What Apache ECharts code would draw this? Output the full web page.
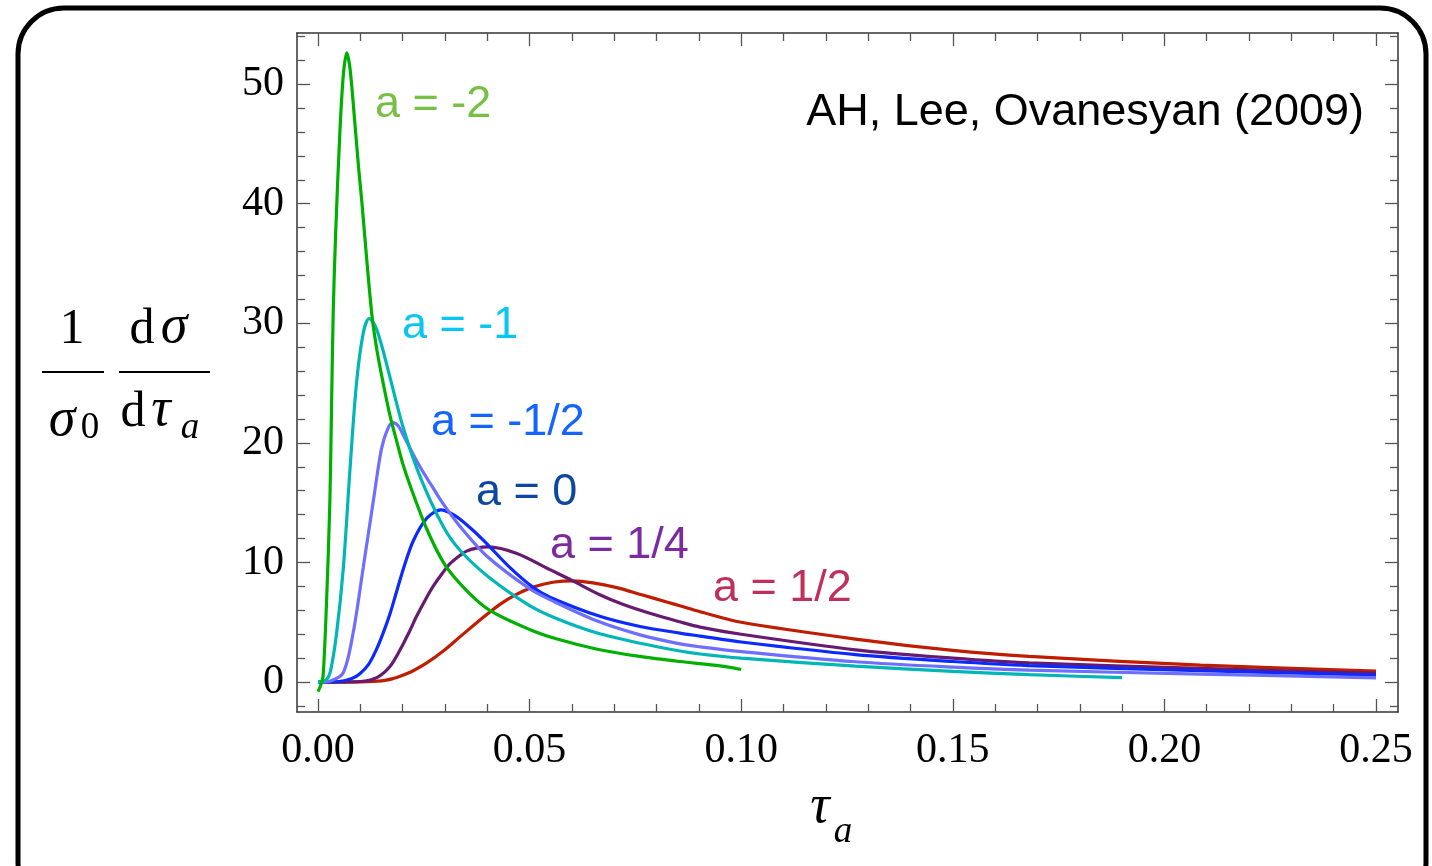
<!DOCTYPE html>
<html>
<head>
<meta charset="utf-8">
<script src="https://cdn.jsdelivr.net/npm/echarts@6/dist/echarts.min.js"></script>
<style>
html,body{margin:0;padding:0;background:#fff;}
#chart{width:1432px;height:866px;}
</style>
</head>
<body>
<div id="chart"></div>
<script>
// ---- data ----
const tauM2 = [0, 0.0006, 0.0012, 0.0020, 0.0028, 0.0032, 0.0036, 0.0042, 0.0052, 0.0060, 0.0068, 0.0076, 0.0087, 0.0096, 0.0104, 0.0115, 0.0128, 0.0140, 0.0154, 0.0170, 0.0187, 0.0200, 0.0217, 0.0257, 0.0300, 0.0350, 0.0406, 0.0500, 0.0565, 0.0660, 0.0760, 0.0855, 0.0950, 0.1000];
const sigM2 = [-0.8, -0.3, 0.5, 6.5, 15, 23, 31, 37.8, 46.2, 50.8, 52.6, 51.2, 46.8, 43.0, 40.0, 35.4, 30.5, 27.6, 25.0, 22.3, 20.0, 18.3, 16.5, 12.8, 9.8, 7.7, 6.0, 4.4, 3.6, 2.75, 2.15, 1.72, 1.35, 1.05];

const tauM1 = [0, 0.002, 0.003, 0.0044, 0.006, 0.0076, 0.0091, 0.0107, 0.0121, 0.0135, 0.0150, 0.0170, 0.0202, 0.0241, 0.0296, 0.0336, 0.0406, 0.0500, 0.0565, 0.0660, 0.0761, 0.0855, 0.0903, 0.1000, 0.1270, 0.1500, 0.1680, 0.1900];
const sigM1 = [0, 0.2, 1.0, 4.1, 9.6, 18.0, 25.0, 29.2, 30.4, 29.8, 28.2, 25.5, 21.2, 17.2, 13.0, 11.0, 8.7, 6.4, 5.3, 4.1, 3.25, 2.6, 2.35, 2.0, 1.34, 0.9, 0.62, 0.38];

const tauMH = [0, 0.003, 0.006, 0.0083, 0.0107, 0.0131, 0.0150, 0.0165, 0.0177, 0.0190, 0.0205, 0.0241, 0.0269, 0.0296, 0.0336, 0.0400, 0.0500, 0.0548, 0.0660, 0.0761, 0.0855, 0.0903, 0.1000, 0.1270, 0.1500, 0.1680, 0.2085, 0.2500];
const sigMH = [0, 0.1, 0.8, 4.1, 9.6, 15.2, 19.5, 21.2, 21.7, 21.4, 20.4, 18.0, 16.4, 14.9, 13.0, 10.5, 7.8, 6.9, 5.1, 3.95, 3.2, 2.95, 2.55, 1.7, 1.25, 1.0, 0.67, 0.36];

const tauZ = [0, 0.005, 0.008, 0.0099, 0.012, 0.0139, 0.0155, 0.017, 0.0186, 0.0202, 0.0225, 0.0257, 0.029, 0.032, 0.035, 0.039, 0.045, 0.0509, 0.0548, 0.0666, 0.0761, 0.0855, 0.0903, 0.1, 0.127, 0.15, 0.168, 0.2085, 0.25];
const sigZ = [0, 0.05, 0.3, 0.7, 1.5, 2.8, 4.2, 5.7, 7.6, 9.5, 11.8, 13.7, 14.4, 14.0, 13.2, 11.9, 9.7, 7.9, 7.1, 5.5, 4.65, 4.1, 3.85, 3.35, 2.3, 1.72, 1.38, 0.95, 0.58];

const tauQ = [0, 0.01, 0.014, 0.017, 0.0194, 0.0217, 0.0233, 0.0257, 0.0272, 0.0296, 0.0312, 0.0336, 0.0351, 0.0375, 0.0402, 0.047, 0.0548, 0.06, 0.0666, 0.072, 0.0784, 0.0855, 0.0903, 0.1, 0.127, 0.15, 0.168, 0.2085, 0.25];
const sigQ = [0, 0.05, 0.4, 1.3, 2.7, 4.3, 5.5, 7.1, 8.0, 9.2, 9.9, 10.6, 10.95, 11.2, 11.3, 10.75, 9.4, 8.5, 7.3, 6.5, 5.75, 5.04, 4.6, 4.0, 2.7, 2.0, 1.6, 1.14, 0.73];

const tauH = [0, 0.01, 0.015, 0.0178, 0.0194, 0.0225, 0.0257, 0.0296, 0.0336, 0.039, 0.043, 0.047, 0.0509, 0.0555, 0.0603, 0.065, 0.0706, 0.0765, 0.0824, 0.0855, 0.0903, 0.1, 0.127, 0.15, 0.168, 0.2085, 0.25];
const sigH = [0, 0.02, 0.1, 0.3, 0.48, 0.95, 1.6, 2.6, 3.8, 5.4, 6.5, 7.35, 7.95, 8.35, 8.47, 8.3, 7.9, 7.3, 6.7, 6.38, 5.88, 5.0, 3.6, 2.65, 2.15, 1.42, 0.92];

const xMajor = [0, 0.05, 0.10, 0.15, 0.20, 0.25];
const xMinor = [0.01,0.02,0.03,0.04,0.06,0.07,0.08,0.09,0.11,0.12,0.13,0.14,0.16,0.17,0.18,0.19,0.21,0.22,0.23,0.24];
const yMajor = [0, 10, 20, 30, 40, 50];
const yMinor = [-2,2,4,6,8,12,14,16,18,22,24,26,28,32,34,36,38,42,44,46,48,52,54];

const curveNames = ['a = 1/2', 'a = 1/4', 'a = 0', 'a = -1/2', 'a = -1', 'a = -2'];
const curveTaus = [tauH, tauQ, tauZ, tauMH, tauM1, tauM2];
const curveSigs = [sigH, sigQ, sigZ, sigMH, sigM1, sigM2];
const lineColors = ['#c01c00', '#661a70', '#0a2aff', '#6e6eff', '#00b6b6', '#00b000'];

// ---- chart ----
const chart = echarts.init(document.getElementById('chart'));
const X_MIN = -0.00496, X_MAX = 0.2552, Y_MIN = -2.5, Y_MAX = 54.27;
const frameColor = '#333', tickColor = '#555';
const serif = 'Liberation Serif';
const sans = 'Liberation Sans';

function xAx(pos, vals, len, label, showLine) {
  return {
    type: 'value', position: pos, min: X_MIN, max: X_MAX,
    axisLine: { show: showLine, onZero: false, lineStyle: { color: frameColor, width: 1.5 } },
    axisTick: { show: true, inside: true, length: len, customValues: vals, lineStyle: { color: tickColor, width: 1.3 } },
    axisLabel: label ? { show: true, customValues: vals, margin: 18, fontFamily: serif, fontSize: 42, color: '#000', formatter: v => v.toFixed(2) } : { show: false },
    splitLine: { show: false }
  };
}
function yAx(pos, vals, len, label, showLine) {
  return {
    type: 'value', position: pos, min: Y_MIN, max: Y_MAX,
    axisLine: { show: showLine, onZero: false, lineStyle: { color: frameColor, width: 1.5 } },
    axisTick: { show: true, inside: true, length: len, customValues: vals, lineStyle: { color: tickColor, width: 1.3 } },
    axisLabel: label ? { show: true, customValues: vals, margin: 13, fontFamily: serif, fontSize: 42, color: '#000', formatter: v => String(v) } : { show: false },
    splitLine: { show: false }
  };
}

const series = curveNames.map((n, i) => ({
  name: n, type: 'line', xAxisIndex: 0, yAxisIndex: 0,
  data: curveTaus[i].map((t, k) => [t, curveSigs[i][k]]),
  showSymbol: false, symbol: 'none', smooth: 0.3,
  lineStyle: { color: lineColors[i], width: 3.2 },
  silent: true, animation: false, z: 3
}));

function txt(x, y, s, opt) {
  return { type: 'text', x: x, y: y, silent: true, z: 10, style: Object.assign({ text: s, fill: '#000', align: 'center', verticalAlign: 'middle' }, opt) };
}

const labelStyle = (c) => ({ fontFamily: sans, fontSize: 45, fill: c, align: 'left' });

chart.setOption({
  animation: false,
  backgroundColor: '#fff',
  grid: { left: 297, right: 34, top: 33, bottom: 154 },
  xAxis: [xAx('bottom', xMajor, 13, true, true), xAx('top', xMajor, 13, false, true), xAx('bottom', xMinor, 8, false, false), xAx('top', xMinor, 8, false, false)],
  yAxis: [yAx('left', yMajor, 13, true, true), yAx('right', yMajor, 13, false, true), yAx('left', yMinor, 8, false, false), yAx('right', yMinor, 8, false, false)],
  series: series,
  graphic: [
    { type: 'rect', silent: true, z: 0, shape: { x: 18, y: 8, width: 1408, height: 900, r: 46 }, style: { fill: 'none', stroke: '#000', lineWidth: 5 } },
    txt(375, 105, 'a = -2', labelStyle('#76c043')),
    txt(402, 326, 'a = -1', labelStyle('#08c6f2')),
    txt(431, 423, 'a = -1/2', labelStyle('#1465ff')),
    txt(476, 493, 'a = 0', labelStyle('#0d47a0')),
    txt(550, 546, 'a = 1/4', labelStyle('#7b2aa0')),
    txt(713, 589, 'a = 1/2', labelStyle('#c0305c')),
    txt(1364, 113, 'AH, Lee, Ovanesyan (2009)', { fontFamily: sans, fontSize: 45, fill: '#000', align: 'right' }),
    // y-axis label: 1/sigma0 dsigma/dtau_a
    txt(72, 330, '1', { fontFamily: serif, fontSize: 50 }),
    { type: 'line', silent: true, shape: { x1: 42, y1: 372, x2: 104, y2: 372 }, style: { stroke: '#000', lineWidth: 2 } },
    txt(62, 421, 'σ', { fontFamily: serif, fontSize: 54, fontStyle: 'italic' }),
    txt(90, 428, '0', { fontFamily: serif, fontSize: 37 }),
    txt(142, 330, 'd', { fontFamily: serif, fontSize: 50 }),
    txt(174, 328, 'σ', { fontFamily: serif, fontSize: 54, fontStyle: 'italic' }),
    { type: 'line', silent: true, shape: { x1: 119, y1: 372, x2: 210, y2: 372 }, style: { stroke: '#000', lineWidth: 2 } },
    txt(133, 413, 'd', { fontFamily: serif, fontSize: 50 }),
    txt(161, 411, 'τ', { fontFamily: serif, fontSize: 54, fontStyle: 'italic' }),
    txt(190, 428, 'a', { fontFamily: serif, fontSize: 37, fontStyle: 'italic' }),
    // x-axis label tau_a
    txt(820, 808, 'τ', { fontFamily: serif, fontSize: 54, fontStyle: 'italic' }),
    txt(843, 832, 'a', { fontFamily: serif, fontSize: 37, fontStyle: 'italic' })
  ]
});
</script>
</body>
</html>
